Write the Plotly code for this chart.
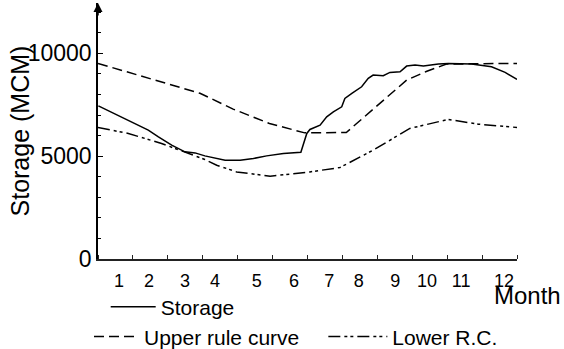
import plotly.graph_objects as go

# x in month-interval units (0 = start of month 1, 12 = end of month 12)
storage_x = [0.01, 0.49, 1.06, 1.44, 1.73, 2.11, 2.49, 2.78, 3.06, 3.64, 4.07, 4.45, 4.83, 5.31, 5.81,
             5.86, 5.98, 6.07, 6.36, 6.55, 6.74, 6.98, 7.07, 7.27, 7.55, 7.74, 7.88, 8.17, 8.36, 8.65,
             8.84, 9.08, 9.32, 9.75, 10.03, 10.70, 11.27, 11.66, 12.0]
storage_y = [7450, 7060, 6590, 6270, 5940, 5535, 5210, 5160, 5015, 4805, 4805, 4888, 5015, 5131, 5195,
             5453, 6105, 6300, 6510, 6913, 7157, 7400, 7809, 8052, 8374, 8783, 8944, 8910, 9075, 9105,
             9382, 9430, 9382, 9479, 9513, 9479, 9348, 9075, 8734]

upper_x = [0.0, 1.46, 2.92, 3.87, 4.91, 5.92, 7.11, 8.84, 9.4, 9.98, 12.0]
upper_y = [9513, 8790, 8060, 7290, 6592, 6134, 6150, 8700, 9120, 9479, 9513]

lower_x = [0.0, 0.87, 1.82, 2.49, 3.06, 3.40, 3.97, 4.93, 6.07, 6.93, 7.88, 8.93, 10.03, 10.89, 12.0]
lower_y = [6397, 6105, 5618, 5210, 4839, 4562, 4236, 4026, 4236, 4450, 5292, 6349, 6787, 6558, 6397]

month_pos = [0.60, 1.46, 2.49, 3.35, 4.55, 5.61, 6.62, 7.47, 8.51, 9.42, 10.40, 11.63]
month_labels = [str(i) for i in range(1, 13)]

y_ticks = [0, 5000, 10000]
y_tick_labels = ["0", "5000", "10000"]
y_top = 12450

FONT = "Liberation Sans, Arial, sans-serif"

fig = go.Figure()
fig.add_trace(go.Scatter(x=storage_x, y=storage_y, mode="lines", name="Storage",
                         line=dict(color="black", width=1.5), legend="legend"))
fig.add_trace(go.Scatter(x=upper_x, y=upper_y, mode="lines", name="Upper rule curve",
                         line=dict(color="black", width=1.5, dash="10px,5px"), legend="legend2"))
fig.add_trace(go.Scatter(x=lower_x, y=lower_y, mode="lines", name="Lower R.C.",
                         line=dict(color="black", width=1.5, dash="12px,4px,3px,3px,3px,4px"),
                         legend="legend3"))

legend_common = dict(orientation="h", xanchor="left", yanchor="middle", bgcolor="rgba(0,0,0,0)",
                     xref="container", yref="container",
                     font=dict(family=FONT, size=21, color="black"))

fig.update_layout(
    width=564, height=349,
    margin=dict(l=98, r=47, t=3, b=90, autoexpand=False),
    paper_bgcolor="white", plot_bgcolor="white",
    font=dict(family=FONT, color="black"),
    showlegend=True,
    legend=dict(x=0.1874, y=0.120, itemwidth=45, **legend_common),
    legend2=dict(x=0.1578, y=0.0346, itemwidth=45, **legend_common),
    legend3=dict(x=0.5733, y=0.0346, itemwidth=59, **legend_common),
    xaxis=dict(range=[0, 12], tickmode="array", tickvals=month_pos, ticktext=month_labels,
               ticks="", showgrid=False, zeroline=False, showline=True, linecolor="#222",
               linewidth=2, tickfont=dict(size=18, family=FONT, color="black"), ticklabelstandoff=4,
               minor=dict(tick0=0, dtick=1, ticks="inside", ticklen=4, tickcolor="#222", tickwidth=1)),
    yaxis=dict(range=[0, y_top], tickmode="array", tickvals=y_ticks, ticktext=y_tick_labels,
               ticks="inside", ticklen=5, tickcolor="black",
               showgrid=False, zeroline=False, showline=True, linecolor="black", linewidth=1.5,
               tickfont=dict(size=23, family=FONT, color="black"),
               minor=dict(tick0=0, dtick=1000, ticks="inside", ticklen=3, tickcolor="black", tickwidth=1)),
    annotations=[
        dict(x=0, y=y_top, xref="x", yref="y", text="", showarrow=True, ax=0, ay=14,
             arrowhead=2, arrowsize=1.2, arrowwidth=1.5, arrowcolor="black"),
        dict(x=-0.185, y=0.5, xref="paper", yref="paper", text="Storage (MCM)", textangle=-90,
             xanchor="center", yanchor="middle",
             showarrow=False, font=dict(size=25, family=FONT, color="black")),
        dict(x=1.026, y=-0.141, xref="paper", yref="paper", text="Month", showarrow=False,
             xanchor="center", yanchor="middle",
             font=dict(size=24, family=FONT, color="black")),
    ],
)

fig.write_html("out.html")
